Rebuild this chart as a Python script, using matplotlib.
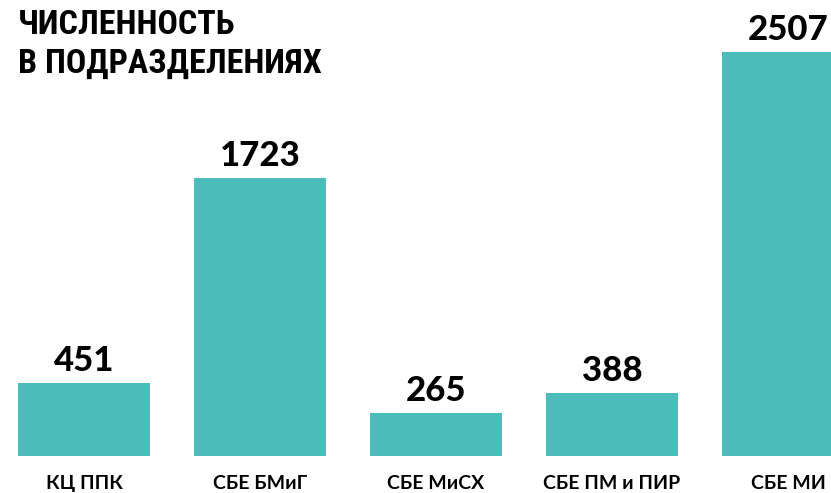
import matplotlib
matplotlib.use("Agg")
import matplotlib.pyplot as plt

categories = ["КЦ ППК", "СБЕ БМиГ", "СБЕ МиСХ", "СБЕ ПМ и ПИР", "СБЕ МИ"]
values = [451, 1723, 265, 388, 2507]
title_lines = ["ЧИСЛЕННОСТЬ", "В ПОДРАЗДЕЛЕНИЯХ"]

W, H = 831, 493
PT = 72 / 100  # points per pixel at dpi 100
fig = plt.figure(figsize=(W / 100, H / 100), dpi=100)
bottom_px = 456
ax = fig.add_axes([0, (H - bottom_px) / H, 1, bottom_px / H])
ax.set_xlim(-84 / 176, (W - 84) / 176)
ax.set_ylim(0, 2507 * bottom_px / 404)
ax.axis("off")

color = "#4BBCB9"
x = list(range(len(categories)))
ax.bar(x, values, width=132 / 176, color=color)

vfam = ["Lato", "DejaVu Sans"]
for xi, v in zip(x, values):
    ax.annotate(str(v), (xi, v), xytext=(0, 12 * PT), textcoords="offset points",
                ha="center", va="baseline", fontsize=25, fontweight=900,
                family=vfam, color="black", annotation_clip=False)

for xi, c in zip(x, categories):
    ax.annotate(c, (xi, 0), xytext=(0, -33 * PT), textcoords="offset points",
                ha="center", va="baseline", fontsize=14, fontweight="bold",
                family=vfam, color="black", annotation_clip=False)

tfam = ["Roboto Condensed", "DejaVu Sans"]
fig.text(18 / W, 1 - 34 / H, title_lines[0], fontsize=24.5, fontweight="bold",
         family=tfam, ha="left", va="baseline")
fig.text(18 / W, 1 - 73 / H, title_lines[1], fontsize=24.5, fontweight="bold",
         family=tfam, ha="left", va="baseline")

fig.savefig("out.png", dpi=100)
